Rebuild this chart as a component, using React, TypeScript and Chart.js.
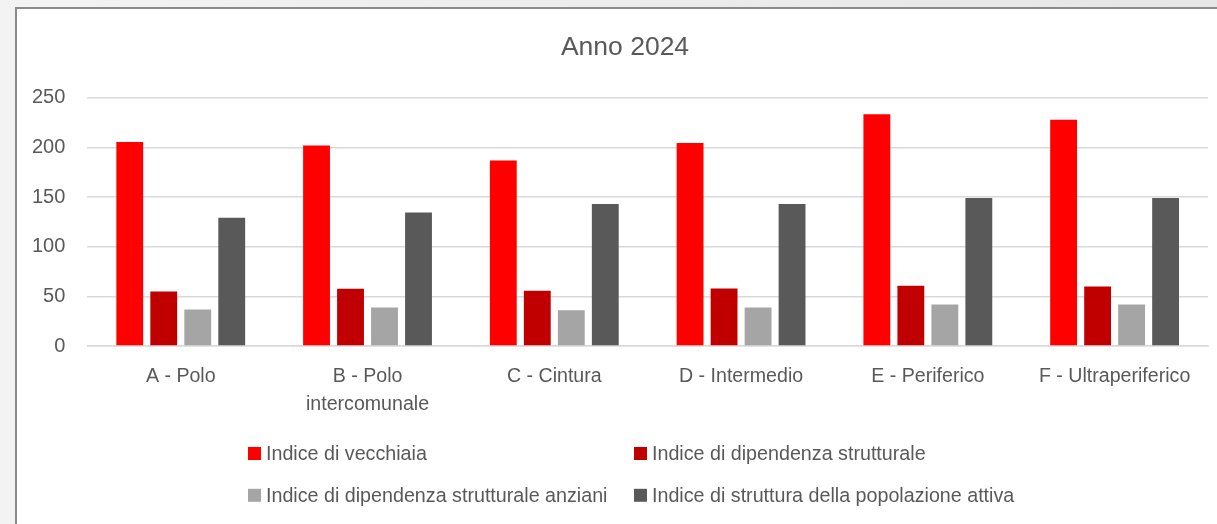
import React, { useEffect, useRef } from "react";
import { Chart, registerables } from "chart.js";

Chart.register(...registerables);

const title = "Anno 2024";
const categories: (string | string[])[] = [
  "A - Polo",
  ["B - Polo", "intercomunale"],
  "C - Cintura",
  "D - Intermedio",
  "E - Periferico",
  "F - Ultraperiferico",
];
const seriesNames = [
  "Indice di vecchiaia",
  "Indice di dipendenza strutturale",
  "Indice di dipendenza strutturale anziani",
  "Indice di struttura della popolazione attiva",
];
const vecchiaia = [205.4, 202.0, 186.8, 204.3, 233.4, 227.7];
const dipendenza = [55.0, 57.8, 55.7, 58.1, 60.8, 60.1];
const dipendenzaAnziani = [36.8, 38.8, 36.1, 38.8, 41.9, 41.9];
const popolazioneAttiva = [129.3, 134.4, 142.9, 142.9, 149.0, 149.0];
const yTicks = [0, 50, 100, 150, 200, 250];

const colors = ["#ff0000", "#c00000", "#a5a5a5", "#595959"];
const FONT = "'Liberation Sans', Arial, sans-serif";
const TEXT = "#595959";

// Title centred on the whole chart object, plus a two-column legend grid.
const decorations = {
  id: "decorations",
  afterDraw(chart: any) {
    const ctx = chart.ctx as CanvasRenderingContext2D;
    const cx = chart.width / 2;
    ctx.save();
    ctx.fillStyle = TEXT;
    ctx.textAlign = "center";
    ctx.textBaseline = "middle";
    ctx.font = `26.5px ${FONT}`;
    ctx.fillText(title, cx - 1, 38.5);

    const cols = [cx - 378, cx + 8];
    const rows = [chart.height - 70.5, chart.height - 28.7];
    ctx.font = `19.7px ${FONT}`;
    ctx.textAlign = "left";
    chart.data.datasets.forEach((ds: any, i: number) => {
      const x = cols[i % 2];
      const y = rows[Math.floor(i / 2)];
      ctx.fillStyle = ds.backgroundColor;
      ctx.fillRect(x, y - 6.5, 13, 13);
      ctx.fillStyle = TEXT;
      ctx.fillText(ds.label, x + 18, y + 1);
    });
    ctx.restore();
  },
};

export default function App() {
  const ref = useRef<HTMLCanvasElement | null>(null);

  useEffect(() => {
    if (!ref.current) return;
    const values = [vecchiaia, dipendenza, dipendenzaAnziani, popolazioneAttiva];
    const chart = new Chart(ref.current, {
      type: "bar",
      data: {
        labels: categories,
        datasets: values.map((v, i) => ({
          label: seriesNames[i],
          data: v,
          backgroundColor: colors[i],
          borderWidth: 0,
          categoryPercentage: 0.728,
          barPercentage: 0.79,
        })),
      },
      options: {
        responsive: false,
        animation: false,
        devicePixelRatio: 1,
        layout: { padding: { left: -7, right: 27, top: 88.7, bottom: 89 } },
        plugins: {
          legend: { display: false },
          tooltip: { enabled: false },
          title: { display: false },
        },
        scales: {
          x: {
            grid: { display: false, drawTicks: false },
            border: { display: true, color: "#d9d9d9", width: 1.5 },
            ticks: {
              color: TEXT,
              padding: 17,
              maxRotation: 0,
              autoSkip: false,
              font: { family: FONT, size: 19.6, lineHeight: 1.4 },
            },
          },
          y: {
            min: 0,
            max: 250,
            afterBuildTicks: (scale: any) => {
              scale.ticks = yTicks.map((v) => ({ value: v }));
            },
            grid: { color: "#d9d9d9", lineWidth: 1.5, drawTicks: false },
            border: { display: false },
            ticks: {
              color: TEXT,
              padding: 22,
              font: { family: FONT, size: 20 },
            },
          },
        },
      },
      plugins: [decorations],
    });
    return () => chart.destroy();
  }, []);

  return (
    <div
      style={{
        position: "absolute",
        left: 0,
        top: 0,
        width: 1217,
        height: 524,
        overflow: "hidden",
        background: "linear-gradient(90deg, #f3f3f3, #e6e6e6)",
      }}
    >
      <div
        style={{
          position: "absolute",
          left: 15,
          top: 7,
          width: 1240,
          height: 540,
          background: "#ffffff",
          borderLeft: "2px solid #8a8a8a",
          borderTop: "2px solid #8a8a8a",
        }}
      >
        <canvas ref={ref} width={1218} height={515} style={{ display: "block" }} />
      </div>
    </div>
  );
}
